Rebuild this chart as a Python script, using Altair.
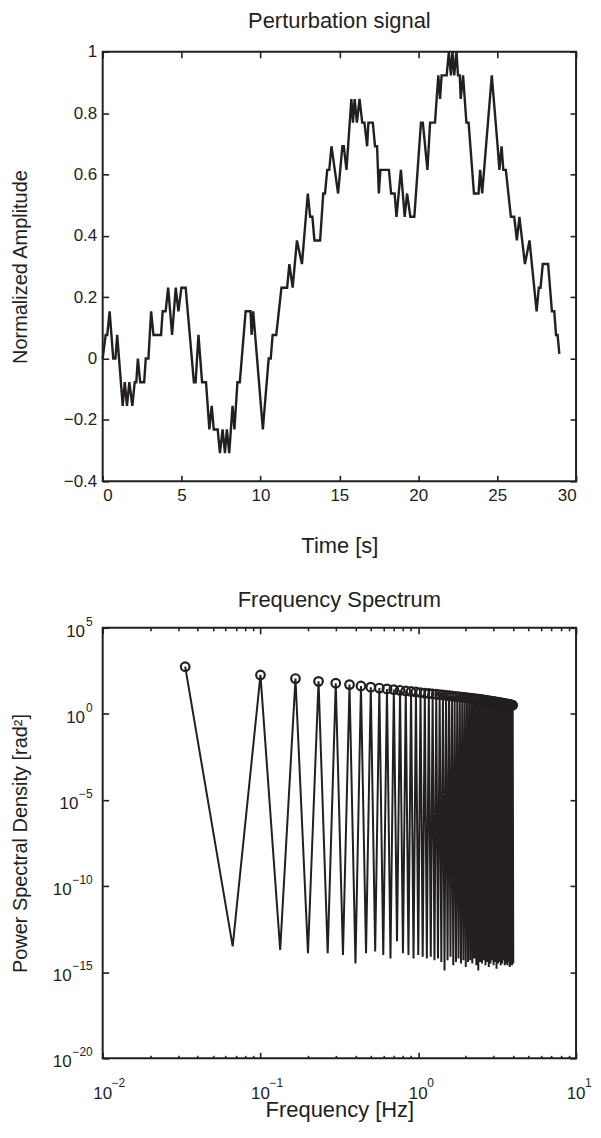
import altair as alt
import pandas as pd

FONT = "Liberation Sans"
INK = "#231f20"

# ---------------- Perturbation signal ----------------
time_s = [0.00, 0.19, 0.29, 0.44, 0.67, 0.81, 0.92, 1.27, 1.40, 1.54, 1.69, 1.88, 2.03, 2.13,
          2.23, 2.38, 2.63, 2.73, 2.90, 3.07, 3.22, 3.70, 3.80, 3.99, 4.15, 4.40, 4.63, 4.80,
          4.99, 5.26, 5.78, 5.89, 6.07, 6.30, 6.55, 6.76, 6.91, 7.04, 7.29, 7.43, 7.60, 7.75,
          7.87, 8.02, 8.23, 8.35, 8.54, 8.69, 9.06, 9.37, 9.44, 9.54, 10.15, 10.52, 10.65,
          10.77, 11.00, 11.33, 11.69, 11.83, 12.04, 12.31, 12.63, 13.00, 13.15, 13.29, 13.42,
          13.78, 13.98, 14.09, 14.23, 14.36, 14.50, 14.71, 14.92, 15.19, 15.28, 15.45, 15.76,
          15.86, 15.97, 16.11, 16.28, 16.45, 16.59, 16.76, 16.84, 17.12, 17.26, 17.39, 17.50,
          17.60, 18.14, 18.28, 18.50, 18.62, 18.90, 19.14, 19.29, 19.50, 19.75, 20.17, 20.29,
          20.58, 20.75, 21.06, 21.27, 21.38, 21.48, 21.80, 21.94, 22.07, 22.17, 22.28, 22.42,
          22.52, 22.63, 22.69, 22.84, 23.05, 23.19, 23.53, 23.82, 23.92, 24.05, 24.66, 25.03,
          25.14, 25.28, 25.39, 25.55, 25.87, 26.08, 26.25, 26.41, 26.76, 27.05, 27.50, 27.64,
          27.75, 27.89, 28.23, 28.47, 28.62, 28.73, 28.83, 28.94]
amplitude = [0.0, 0.077, 0.077, 0.154, 0.0, 0.0, 0.077, -0.154, -0.077, -0.154, -0.077, -0.154,
             -0.077, -0.077, 0.0, -0.077, -0.077, 0.0, 0.0, 0.154, 0.077, 0.077, 0.154, 0.154,
             0.231, 0.077, 0.231, 0.154, 0.231, 0.231, -0.077, -0.077, 0.077, -0.077, -0.077,
             -0.231, -0.154, -0.231, -0.231, -0.308, -0.231, -0.308, -0.231, -0.308, -0.154,
             -0.231, -0.077, -0.077, 0.154, 0.154, 0.077, 0.154, -0.231, 0.0, 0.0, 0.077, 0.077,
             0.231, 0.231, 0.308, 0.231, 0.385, 0.308, 0.538, 0.462, 0.462, 0.385, 0.385, 0.538,
             0.538, 0.615, 0.615, 0.692, 0.615, 0.538, 0.692, 0.692, 0.615, 0.846, 0.769, 0.846,
             0.769, 0.846, 0.769, 0.769, 0.692, 0.769, 0.769, 0.692, 0.692, 0.538, 0.615, 0.615,
             0.538, 0.538, 0.462, 0.615, 0.462, 0.538, 0.462, 0.462, 0.769, 0.769, 0.615, 0.769,
             0.769, 0.923, 0.846, 0.923, 0.923, 1.0, 0.923, 1.0, 0.923, 1.0, 0.923, 0.923, 0.846,
             0.923, 0.769, 0.769, 0.538, 0.538, 0.615, 0.538, 0.923, 0.692, 0.615, 0.692, 0.615,
             0.615, 0.462, 0.462, 0.385, 0.462, 0.308, 0.385, 0.154, 0.231, 0.231, 0.308, 0.308,
             0.154, 0.154, 0.077, 0.077, 0.015]

# ---------------- Frequency spectrum ----------------
base_freq_hz = 1 / 30
harmonic = list(range(1, 121))
# log10 of the PSD at the odd harmonics 1, 3, ..., 119
peak_log10 = [2.74, 2.26, 2.05, 1.89, 1.78, 1.70, 1.62, 1.55, 1.50, 1.45, 1.41, 1.37, 1.33, 1.30,
              1.27, 1.24, 1.21, 1.19, 1.16, 1.14, 1.12, 1.10, 1.08, 1.06, 1.04, 1.02, 1.00, 0.99,
              0.97, 0.95, 0.94, 0.92, 0.91, 0.89, 0.88, 0.86, 0.85, 0.83, 0.82, 0.80, 0.79, 0.77,
              0.76, 0.74, 0.73, 0.71, 0.70, 0.68, 0.67, 0.65, 0.64, 0.62, 0.61, 0.59, 0.58, 0.56,
              0.55, 0.53, 0.52, 0.50]
# log10 of the PSD at the even harmonics 2, 4, ..., 120
trough_log10 = [-13.5, -13.7, -13.9, -13.9, -14.0, -14.5, -13.9, -13.8, -14.0, -14.2, -13.2,
                -13.9, -14.0, -14.2, -14.0, -14.1, -14.2, -14.1, -14.3, -14.2, -14.4, -14.9,
                -14.3, -14.1, -14.6, -14.4, -14.2, -14.5, -14.3, -14.7, -14.4, -14.3, -14.5,
                -14.2, -14.6, -14.9, -14.4, -14.5, -14.3, -14.6, -14.4, -14.7, -14.5, -14.3,
                -14.6, -14.4, -14.8, -14.5, -14.4, -14.6, -14.5, -14.3, -14.6, -14.5, -14.6,
                -14.4, -14.7, -14.6, -14.6, -14.5]

# axis ticks
time_ticks = [0, 5, 10, 15, 20, 25, 30]
amp_ticks = [-0.4, -0.2, 0, 0.2, 0.4, 0.6, 0.8, 1.0]
freq_decades = [-2, -1, 0, 1]
psd_decades = [5, 0, -5, -10, -15, -20]

# ---------------- tables ----------------
sig = pd.DataFrame({"t": time_s, "a": amplitude})

psd = []
for k in harmonic:
    if k % 2 == 1:
        psd.append(10 ** peak_log10[(k - 1) // 2])
    else:
        psd.append(10 ** trough_log10[k // 2 - 1])
spec = pd.DataFrame({"k": harmonic, "f": [k * base_freq_hz for k in harmonic], "p": psd})


def exp_text(d):
    return ("\u2212" + str(abs(d))) if d < 0 else str(d)


xdec = pd.DataFrame({"v": [10.0 ** d for d in freq_decades], "e": [exp_text(d) for d in freq_decades]})
ydec = pd.DataFrame({"v": [10.0 ** d for d in psd_decades], "e": [exp_text(d) for d in psd_decades],
                     "n": [len(exp_text(d)) for d in psd_decades]})
minor_vals = [m * 10.0 ** d for d in (-2, -1, 0) for m in range(2, 10)]

# ---------------- layout constants ----------------
W, H1, H2 = 475, 431, 432
TL = 6      # major tick length (inward)
TLm = 3     # minor tick length
LBL = 17    # tick label size
TTL = 20    # axis title size
HEAD = 22   # panel title size

common = dict(domain=False, grid=False, tickColor=INK, tickWidth=1.6,
              labelFont=FONT, labelFontSize=LBL, labelColor=INK,
              titleFont=FONT, titleFontSize=TTL, titleFontWeight="normal", titleColor=INK)


def ax(orient, values, size=TL, **kw):
    opts = dict(common)
    opts.update(kw)
    return alt.Axis(orient=orient, values=values, tickSize=size, offset=-size, **opts)


frame = alt.ViewBackground(stroke=INK, strokeWidth=2)

# ---------------- top panel ----------------
xs1 = alt.Scale(domain=[0, 30], nice=False, zero=False)
ys1 = alt.Scale(domain=[-0.4, 1.0], nice=False, zero=False)

line1 = alt.Chart(sig).mark_line(color=INK, strokeWidth=2.4).encode(
    x=alt.X("t:Q", scale=xs1,
            axis=ax("bottom", time_ticks, labelPadding=6, title="Time [s]",
                    titleFontSize=HEAD, titleY=70, titleBaseline="middle")),
    y=alt.Y("a:Q", scale=ys1,
            axis=ax("left", amp_ticks, format="~g", labelPadding=6,
                    title="Normalized Amplitude", titleX=-88, titleBaseline="middle")),
)
mirror1 = alt.Chart(sig).mark_line(opacity=0).encode(
    x=alt.X("t:Q", scale=xs1, title=None, axis=ax("top", time_ticks, labels=False)),
    y=alt.Y("a:Q", scale=ys1, title=None, axis=ax("right", amp_ticks, labels=False)),
)
top = alt.layer(line1, mirror1).resolve_axis(x="independent", y="independent").properties(
    width=W, height=H1, view=frame,
    title=alt.TitleParams("Perturbation signal", font=FONT, fontSize=HEAD, fontWeight="normal",
                          color=INK, offset=10, anchor="middle", frame="group"),
)

# ---------------- bottom panel ----------------
xs2 = alt.Scale(type="log", domain=[0.01, 10], nice=False)
ys2 = alt.Scale(type="log", domain=[1e-20, 1e5], nice=False)
yvals = [10.0 ** d for d in psd_decades]
xvals = [10.0 ** d for d in freq_decades]

line2 = alt.Chart(spec).mark_line(color=INK, strokeWidth=2).encode(
    x=alt.X("f:Q", scale=xs2,
            axis=ax("bottom", xvals, labels=False, title="Frequency [Hz]",
                    titleFontSize=HEAD, titleY=57, titleBaseline="middle")),
    y=alt.Y("p:Q", scale=ys2,
            axis=ax("left", yvals, labels=False, title="Power Spectral Density [rad\u00b2]",
                    titleX=-88, titleBaseline="middle")),
)
pts2 = alt.Chart(spec).transform_filter("datum.k % 2 == 1").mark_point(
    shape="circle", filled=False, size=75, strokeWidth=2.2, color=INK, opacity=1).encode(
    x=alt.X("f:Q", scale=xs2, title=None, axis=ax("top", xvals, labels=False)),
    y=alt.Y("p:Q", scale=ys2, title=None, axis=ax("right", yvals, labels=False)),
)
minor_b = alt.Chart(spec).mark_line(opacity=0).encode(
    x=alt.X("f:Q", scale=xs2, title=None, axis=ax("bottom", minor_vals, size=TLm, labels=False)),
    y=alt.Y("p:Q", scale=ys2, axis=None),
)
minor_t = alt.Chart(spec).mark_line(opacity=0).encode(
    x=alt.X("f:Q", scale=xs2, title=None, axis=ax("top", minor_vals, size=TLm, labels=False)),
    y=alt.Y("p:Q", scale=ys2, axis=None),
)

# x tick labels: "10" with superscript exponent
xten = alt.Chart(xdec).mark_text(font=FONT, fontSize=LBL, color=INK, align="center",
                                 baseline="middle").encode(
    x=alt.X("v:Q", scale=xs2, axis=None), y=alt.value(H2 + 36), text=alt.value("10"))
xexp = alt.Chart(xdec).mark_text(font=FONT, fontSize=12, color=INK, align="left",
                                 baseline="middle", dx=9).encode(
    x=alt.X("v:Q", scale=xs2, axis=None), y=alt.value(H2 + 25), text="e:N")

# y tick labels: right aligned "10" + exponent
yexp = alt.Chart(ydec).mark_text(font=FONT, fontSize=12, color=INK, align="right",
                                 baseline="middle", dy=-6).encode(
    x=alt.value(-10), y=alt.Y("v:Q", scale=ys2, axis=None), text="e:N")
yten_layers = []
for n in (1, 2, 3):
    yten_layers.append(
        alt.Chart(ydec).transform_filter(f"datum.n == {n}").mark_text(
            font=FONT, fontSize=LBL, color=INK, align="right", baseline="middle", dy=4).encode(
            x=alt.value(-10 - 6.7 * n - 1), y=alt.Y("v:Q", scale=ys2, axis=None),
            text=alt.value("10"))
    )

bottom = alt.layer(line2, pts2, minor_b, minor_t, xten, xexp, yexp, *yten_layers).resolve_axis(
    x="independent", y="independent").properties(
    width=W, height=H2, view=frame,
    title=alt.TitleParams("Frequency Spectrum", font=FONT, fontSize=HEAD, fontWeight="normal",
                          color=INK, offset=4, anchor="middle", frame="group"),
)

chart = alt.vconcat(top, bottom, spacing=31).properties(
    padding={"left": 2, "top": -1, "right": 0, "bottom": 0}, background="white"
)

chart.save("out.html", embed_options={"renderer": "svg", "actions": False})
